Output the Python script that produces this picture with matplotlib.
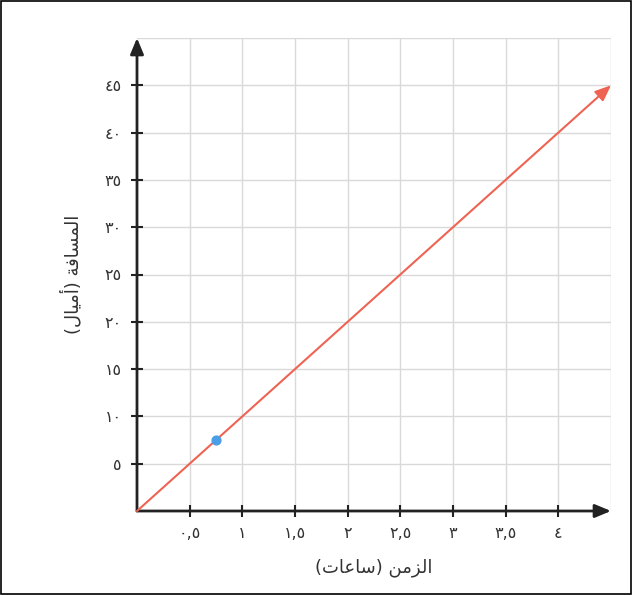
import matplotlib
matplotlib.use("Agg")
import matplotlib.pyplot as plt
from matplotlib.patches import Rectangle

# data
x_ticks = [0.5, 1, 1.5, 2, 2.5, 3, 3.5, 4]
x_labels = ["٠,٥", "١", "١,٥", "٢", "٢,٥", "٣", "٣,٥", "٤"]
y_ticks = [5, 10, 15, 20, 25, 30, 35, 40, 45]
y_labels = ["٥", "١٠", "١٥", "٢٠", "٢٥", "٣٠", "٣٥", "٤٠", "٤٥"]
grid_x = [0.5, 1, 1.5, 2, 2.5, 3, 3.5, 4, 4.5]
grid_y = [5, 10, 15, 20, 25, 30, 35, 40, 45, 50]
line_start = (0, 0)
line_end = (4.5, 45)
point_x = [0.75]
point_y = [7.5]

# Arabic labels pre-shaped (presentation forms) in visual order
x_title = "(\uFE95\uFE8E\uFECB\uFE8E\uFEB3) \uFEE6\uFEE3\uFEB0\uFEDF\uFE8D"
y_title = "(\uFEDD\uFE8E\uFEF4\uFEE3\uFE83) \uFE94\uFED3\uFE8E\uFEB4\uFEE4\uFEDF\uFE8D"

txt = "#333333"
plt.rcParams['font.family'] = ['DejaVu Sans']

fig = plt.figure(figsize=(6.32, 5.95), dpi=100)
fig.patches.append(Rectangle((0.001, 0.001), 0.997, 0.997, transform=fig.transFigure,
                             fill=False, edgecolor='black', linewidth=1.2))
ax = fig.add_axes([137 / 632, 84 / 595, 474 / 632, 473 / 595])
ax.set_xlim(0, 4.5)
ax.set_ylim(0, 50)

for gx in grid_x:
    ax.axvline(gx, color='#d9d9d9', lw=1, zorder=0)
for gy in grid_y:
    ax.axhline(gy, color='#d9d9d9', lw=1, zorder=0)

for s in ax.spines.values():
    s.set_visible(False)

# axes with arrows
arrow_kw = dict(arrowstyle='-|>,head_length=0.6,head_width=0.25', color='#222222', lw=2,
                mutation_scale=16, shrinkA=0, shrinkB=0)
ax.annotate("", xy=(4.5, 0), xytext=(0, 0), arrowprops=arrow_kw,
            annotation_clip=False, zorder=3)
ax.annotate("", xy=(0, 50), xytext=(0, 0), arrowprops=arrow_kw,
            annotation_clip=False, zorder=3)

ax.set_xticks(x_ticks)
ax.set_xticklabels(x_labels)
ax.set_yticks(y_ticks)
ax.set_yticklabels(y_labels)
ax.tick_params(direction='inout', length=8, width=1.5, color='#222222',
               labelcolor=txt, labelsize=11.5)
ax.tick_params(axis='x', pad=7)
ax.tick_params(axis='y', pad=7)

# red line with arrow
ax.annotate("", xy=line_end, xytext=line_start,
            arrowprops=dict(arrowstyle='-|>,head_length=0.6,head_width=0.25', color='#ee6352',
                            lw=1.5, mutation_scale=16, shrinkA=0, shrinkB=0),
            annotation_clip=False, zorder=4)
ax.scatter(point_x, point_y, s=40, color='#4a9ee8', zorder=5, clip_on=False)

ax.set_xlabel(x_title, fontsize=13, color=txt, labelpad=12)
ax.set_ylabel(y_title, fontsize=13, color=txt, labelpad=16)

fig.savefig("out.png", dpi=100)
